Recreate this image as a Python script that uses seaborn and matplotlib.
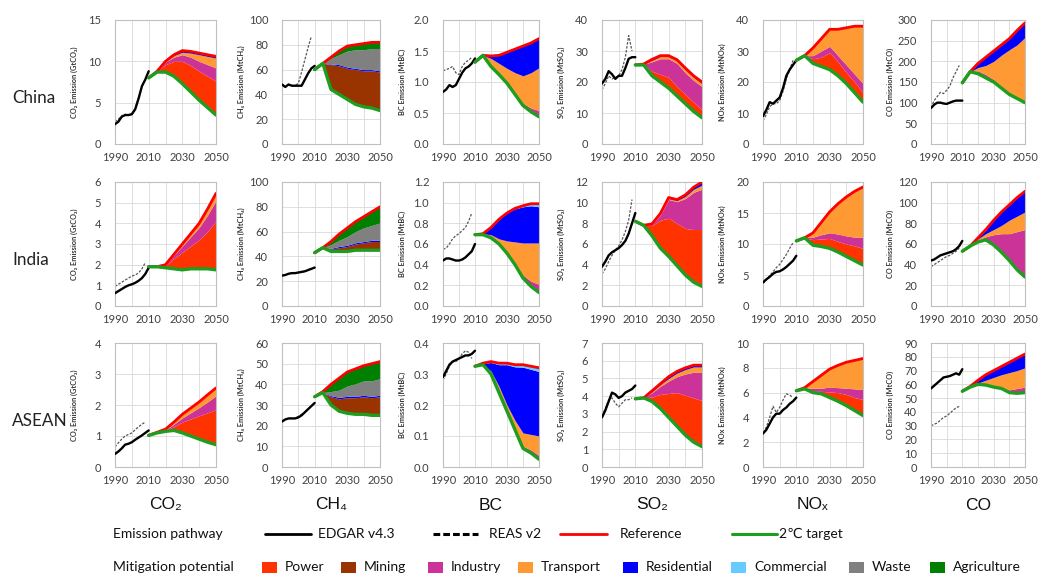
import numpy as np
import matplotlib
matplotlib.use("Agg")
import matplotlib.pyplot as plt
import seaborn as sns
from matplotlib.lines import Line2D
from matplotlib.patches import Rectangle
from matplotlib.ticker import FixedLocator

sns.set_theme(style="white")
plt.rcParams['font.family'] = ['Lato', 'DejaVu Sans']

# ---------------- years ----------------
hist_years = [1990, 1992, 1994, 1996, 1998, 2000, 2002, 2004, 2006, 2008, 2010]
reas_years = [1990, 1992, 1994, 1996, 1998, 2000, 2002, 2004, 2006, 2008]
proj_years = [2010, 2015, 2020, 2025, 2030, 2035, 2040, 2045, 2050]

regions = ["China", "India", "ASEAN"]
species = ["CO2", "CH4", "BC", "SO2", "NOx", "CO"]
species_titles = ["CO\u2082", "CH\u2084", "BC", "SO\u2082", "NO\u2093", "CO"]
ylabels = ["CO\u2082 Emission (GtCO\u2082)", "CH\u2084 Emission (MtCH\u2084)", "BC Emission (MtBC)",
           "SO\u2082 Emission (MtSO\u2082)", "NOx Emission (MtNOx)", "CO Emission (MtCO)"]
sectors = ["Power", "Mining", "Industry", "Transport", "Residential", "Commercial", "Waste", "Agriculture"]
sector_colors = ["#FF3300", "#993300", "#CC3399", "#FF9933", "#0000FF", "#66CCFF", "#808080", "#008000"]

# ---------------- China ----------------
cn_co2_edgar = [2.4, 2.7, 3.3, 3.5, 3.5, 3.6, 4.2, 5.5, 7.0, 7.8, 8.8]
cn_co2_reas = [2.7, 3.0, 3.4, 3.6, 3.5, 3.7, 4.3, 5.6, 7.0, 7.8]
cn_co2_target = [8.0, 8.7, 8.7, 8.2, 7.3, 6.3, 5.3, 4.4, 3.5]
cn_co2_wedges = {"Power": [0, 0.1, 0.9, 1.8, 2.7, 3.2, 3.5, 3.8, 4.1],
                 "Industry": [0, 0, 0.3, 0.5, 0.8, 1.0, 1.2, 1.4, 1.6],
                 "Transport": [0, 0, 0.1, 0.2, 0.3, 0.5, 0.8, 1.0, 1.2],
                 "Residential": [0, 0, 0, 0.1, 0.2, 0.2, 0.2, 0.2, 0.2]}

cn_ch4_edgar = [48, 46, 48, 47, 47, 47, 47, 52, 57, 61, 63]
cn_ch4_reas = [48, 46, 48, 47, 47, 49, 58, 68, 78, 87]
cn_ch4_target = [60, 65, 44, 40, 36, 32, 30, 29, 27]
cn_ch4_wedges = {"Mining": [0, 0, 20, 23, 25, 28, 29, 30, 31],
                 "Residential": [0, 0, 0.5, 1, 1, 1, 1, 1, 1],
                 "Waste": [0, 0, 4.5, 8, 13, 15, 16, 17, 18],
                 "Agriculture": [0, 0, 1, 3, 4, 4, 5, 5, 5]}

cn_bc_edgar = [0.84, 0.88, 0.95, 0.92, 0.95, 1.05, 1.15, 1.22, 1.25, 1.30, 1.38]
cn_bc_reas = [1.18, 1.20, 1.22, 1.25, 1.15, 1.12, 1.25, 1.32, 1.35, 1.40]
cn_bc_target = [1.32, 1.43, 1.25, 1.12, 0.98, 0.80, 0.62, 0.52, 0.44]
cn_bc_wedges = {"Industry": [0, 0, 0.01, 0.02, 0.02, 0.03, 0.04, 0.06, 0.10],
                "Transport": [0, 0, 0.12, 0.16, 0.22, 0.32, 0.44, 0.57, 0.69],
                "Residential": [0, 0, 0.04, 0.13, 0.26, 0.38, 0.48, 0.48, 0.47]}

cn_so2_edgar = [19.5, 21, 23.5, 22.5, 21, 22, 22, 24.5, 27.5, 28, 28]
cn_so2_reas = [17.5, 19.5, 22, 21, 21.5, 22, 24, 28, 35, 30]
cn_so2_target = [25.5, 25.5, 22, 20, 18, 15.5, 13, 10.5, 8.5]
cn_so2_wedges = {"Power": [0, 0, 1.5, 2.5, 3.5, 3, 3, 3, 2.5],
                 "Industry": [0, 0.3, 3, 5, 6, 7.5, 7, 7, 7.5],
                 "Transport": [0, 0, 0.5, 0.7, 0.7, 0.8, 1.0, 1.0, 1.0],
                 "Residential": [0, 0, 0.3, 0.3, 0.3, 0.4, 0.5, 0.5, 0.5]}

cn_nox_edgar = [9, 11, 13.5, 13, 14, 15, 18, 22, 24, 25.5, 27]
cn_nox_reas = [7.5, 9.5, 12, 13, 13, 14, 17, 21, 24, 27]
cn_nox_target = [27, 28.5, 26, 25, 24, 22, 19.5, 16.5, 13.5]
cn_nox_wedges = {"Power": [0, 0, 1.5, 3, 5.5, 4.5, 3.5, 3.5, 3],
                 "Industry": [0, 0, 1, 2, 2, 2, 2.5, 2.5, 3],
                 "Transport": [0, 0, 2.5, 4, 5.5, 8.5, 12, 15.5, 18.5]}

cn_co_edgar = [87, 95, 100, 100, 98, 97, 100, 103, 105, 105, 105]
cn_co_reas = [88, 105, 115, 125, 122, 130, 140, 160, 175, 190]
cn_co_target = [148, 175, 170, 160, 150, 135, 120, 110, 100]
cn_co_wedges = {"Industry": [0, 0, 7, 8, 6, 3, 2, 1, 1],
                "Transport": [0, 0, 8, 22, 44, 77, 106, 129, 157],
                "Residential": [0, 0, 10, 20, 25, 25, 27, 35, 35]}

# ---------------- India ----------------
in_co2_edgar = [0.62, 0.72, 0.82, 0.92, 1.0, 1.05, 1.12, 1.22, 1.35, 1.55, 1.85]
in_co2_reas = [0.95, 1.05, 1.15, 1.25, 1.35, 1.45, 1.5, 1.6, 1.8, 2.1]
in_co2_target = [1.9, 1.9, 1.85, 1.8, 1.75, 1.8, 1.8, 1.8, 1.75]
in_co2_wedges = {"Power": [0, 0, 0.1, 0.5, 0.85, 1.1, 1.4, 1.8, 2.35],
                 "Industry": [0, 0, 0.03, 0.15, 0.3, 0.45, 0.6, 0.8, 1.0],
                 "Transport": [0, 0, 0.02, 0.05, 0.1, 0.15, 0.2, 0.3, 0.35]}

in_ch4_edgar = [24.5, 25, 26, 26.5, 26.5, 27, 27.5, 28, 29, 30, 31]
in_ch4_reas = [24.5, 25, 26, 26.5, 26.5, 27, 27.5, 28, 29, 30]
in_ch4_target = [43, 47, 44, 44, 44, 45, 45, 45, 45]
in_ch4_wedges = {"Mining": [0, 0, 2, 3, 4, 5, 6, 7, 7],
                 "Residential": [0, 0, 0.5, 1, 1, 1, 1, 1, 1],
                 "Waste": [0, 0, 3, 5, 7, 9, 11, 12, 14],
                 "Agriculture": [0, 0, 2.5, 5, 7, 8, 9, 11, 13]}

in_bc_edgar = [0.44, 0.46, 0.46, 0.45, 0.44, 0.44, 0.45, 0.47, 0.50, 0.53, 0.60]
in_bc_reas = [0.55, 0.56, 0.60, 0.65, 0.68, 0.70, 0.73, 0.76, 0.82, 0.90]
in_bc_target = [0.69, 0.69, 0.66, 0.60, 0.51, 0.40, 0.27, 0.19, 0.13]
in_bc_wedges = {"Industry": [0, 0, 0.01, 0.01, 0.02, 0.02, 0.03, 0.05, 0.08],
                "Transport": [0, 0.01, 0.02, 0.04, 0.10, 0.20, 0.31, 0.37, 0.40],
                "Residential": [0, 0, 0.07, 0.19, 0.27, 0.32, 0.35, 0.36, 0.35],
                "Commercial": [0, 0, 0, 0, 0, 0.005, 0.01, 0.02, 0.03]}

in_so2_edgar = [3.8, 4.3, 4.9, 5.2, 5.4, 5.6, 5.9, 6.3, 7.0, 8.0, 9.0]
in_so2_reas = [3.1, 3.6, 4.3, 4.9, 5.4, 5.8, 6.4, 7.2, 8.3, 10.3]
in_so2_target = [8.2, 7.8, 6.8, 5.6, 4.8, 3.9, 3.0, 2.3, 1.9]
in_so2_wedges = {"Power": [0, 0, 1.0, 2.7, 3.7, 4.1, 4.5, 5.1, 5.5],
                 "Industry": [0, 0, 0.1, 0.5, 1.8, 2.1, 2.9, 3.6, 3.9],
                 "Transport": [0, 0, 0.05, 0.1, 0.1, 0.1, 0.2, 0.3, 0.4],
                 "Residential": [0, 0, 0, 0.05, 0.1, 0.1, 0.15, 0.2, 0.3]}

in_nox_edgar = [3.8, 4.3, 4.7, 5.2, 5.5, 5.6, 5.9, 6.3, 6.8, 7.3, 8.1]
in_nox_reas = [3.6, 4.2, 4.9, 5.5, 6.2, 6.7, 7.5, 8.3, 9.3, 10.2]
in_nox_target = [10.5, 11.0, 9.8, 9.6, 9.3, 8.7, 8.0, 7.3, 6.6]
in_nox_wedges = {"Power": [0, 0, 0.9, 1.2, 1.6, 1.7, 2.0, 2.4, 2.7],
                 "Industry": [0, 0, 0.4, 0.7, 0.9, 1.2, 1.3, 1.4, 1.8],
                 "Transport": [0, 0, 0.7, 2.0, 3.4, 4.9, 6.3, 7.4, 8.1]}

in_co_edgar = [44, 45, 47, 49, 50, 51, 52, 53, 55, 58, 63]
in_co_reas = [38, 40, 42, 44, 46, 48, 49, 51, 53, 56]
in_co_target = [53, 58, 62, 64, 59, 52, 44, 35, 28]
in_co_wedges = {"Industry": [0, 0, 2, 3, 10, 18, 26, 37, 46],
                "Transport": [0, 0, 1, 3, 5, 8, 13, 15, 17],
                "Residential": [0, 0, 1, 4, 9, 13, 15, 18, 20]}

# ---------------- ASEAN ----------------
as_co2_edgar = [0.42, 0.5, 0.6, 0.72, 0.75, 0.8, 0.88, 0.95, 1.02, 1.1, 1.18]
as_co2_reas = [0.65, 0.78, 0.9, 1.0, 1.05, 1.1, 1.2, 1.3, 1.38, 1.45]
as_co2_target = [1.02, 1.1, 1.15, 1.18, 1.1, 1.0, 0.9, 0.8, 0.72]
as_co2_wedges = {"Power": [0, 0.02, 0.03, 0.12, 0.35, 0.55, 0.75, 0.95, 1.13],
                 "Industry": [0, 0, 0.01, 0.08, 0.13, 0.2, 0.27, 0.35, 0.45],
                 "Transport": [0, 0, 0.03, 0.07, 0.12, 0.15, 0.18, 0.23, 0.25]}

as_ch4_edgar = [22, 23, 23.5, 23.5, 23.5, 24, 25, 26.5, 28, 29.5, 31]
as_ch4_reas = [22, 23, 23.5, 23.5, 23.5, 24.5, 25.5, 26.5, 28, 29.5]
as_ch4_target = [34, 36, 30, 27, 26, 25.5, 25.5, 25, 25]
as_ch4_wedges = {"Mining": [0, 0, 4, 6, 7.5, 8, 8.5, 8.5, 9],
                 "Residential": [0, 0, 0.5, 0.7, 0.7, 0.7, 0.7, 0.7, 0.7],
                 "Waste": [0, 0, 2, 3.5, 5, 6, 7, 7.5, 8],
                 "Agriculture": [0, 0.5, 3.5, 5.8, 6.8, 7.3, 7.3, 8.3, 8.3]}

as_bc_edgar = [0.29, 0.31, 0.33, 0.34, 0.345, 0.35, 0.355, 0.36, 0.36, 0.365, 0.375]
as_bc_reas = [0.28, 0.30, 0.325, 0.34, 0.34, 0.35, 0.365, 0.375, 0.37, 0.35]
as_bc_target = [0.325, 0.33, 0.30, 0.24, 0.18, 0.12, 0.06, 0.045, 0.025]
as_bc_wedges = {"Industry": [0, 0, 0, 0, 0.003, 0.005, 0.007, 0.01, 0.012],
                "Transport": [0, 0, 0.01, 0.02, 0.017, 0.025, 0.043, 0.05, 0.063],
                "Residential": [0, 0.005, 0.027, 0.07, 0.13, 0.173, 0.212, 0.21, 0.208],
                "Commercial": [0, 0, 0.003, 0.005, 0.005, 0.007, 0.008, 0.01, 0.012]}

as_so2_edgar = [2.8, 3.2, 3.7, 4.2, 4.1, 3.9, 4.0, 4.2, 4.3, 4.4, 4.6]
as_so2_reas = [2.9, 3.3, 3.8, 3.9, 3.6, 3.4, 3.6, 3.8, 3.8, 3.9]
as_so2_target = [3.85, 3.9, 3.7, 3.3, 2.8, 2.3, 1.8, 1.4, 1.15]
as_so2_wedges = {"Power": [0, 0, 0.25, 0.8, 1.35, 1.9, 2.25, 2.5, 2.6],
                 "Industry": [0, 0, 0.25, 0.45, 0.7, 0.9, 1.2, 1.45, 1.6],
                 "Transport": [0, 0, 0.05, 0.1, 0.15, 0.2, 0.25, 0.3, 0.3],
                 "Residential": [0, 0, 0.05, 0.05, 0.1, 0.1, 0.1, 0.1, 0.1]}

as_nox_edgar = [2.7, 3.0, 3.5, 4.0, 4.3, 4.3, 4.6, 4.8, 5.1, 5.3, 5.6]
as_nox_reas = [2.8, 3.2, 4.0, 4.9, 4.4, 4.8, 5.4, 5.9, 5.8, 5.6]
as_nox_target = [6.15, 6.3, 6.0, 5.9, 5.6, 5.3, 4.95, 4.55, 4.15]
as_nox_wedges = {"Power": [0, 0, 0.1, 0.2, 0.45, 0.7, 0.9, 1.05, 1.3],
                 "Industry": [0, 0.05, 0.25, 0.25, 0.4, 0.4, 0.5, 0.7, 0.8],
                 "Transport": [0, 0.05, 0.55, 1.05, 1.45, 1.8, 2.1, 2.3, 2.5]}

as_co_edgar = [57, 59, 61, 63, 65, 65.5, 66, 67, 68, 67, 71]
as_co_reas = [30, 31, 32, 34, 36, 37, 39, 41, 43, 44]
as_co_target = [55, 58, 60, 59.5, 58, 57, 54, 53.5, 54]
as_co_wedges = {"Industry": [0, 0, 0, 0.5, 1, 1, 2, 3.5, 4],
                "Transport": [0, 0.3, 1, 3, 6, 9, 12.5, 13, 14],
                "Residential": [0, 0.2, 2, 4, 5, 6, 7.5, 9, 10]}

# axis ranges (ymax, tick step) per region/species
ylims = {
    "China": [(15, 5), (100, 20), (2.0, 0.5), (40, 10), (40, 10), (300, 50)],
    "India": [(6, 1), (100, 20), (1.2, 0.2), (12, 2), (20, 5), (120, 20)],
    "ASEAN": [(4, 1), (60, 10), (0.4, 0.1), (7, 1), (10, 2), (90, 10)],
}

panels = {
    "China": [(cn_co2_edgar, cn_co2_reas, cn_co2_target, cn_co2_wedges),
              (cn_ch4_edgar, cn_ch4_reas, cn_ch4_target, cn_ch4_wedges),
              (cn_bc_edgar, cn_bc_reas, cn_bc_target, cn_bc_wedges),
              (cn_so2_edgar, cn_so2_reas, cn_so2_target, cn_so2_wedges),
              (cn_nox_edgar, cn_nox_reas, cn_nox_target, cn_nox_wedges),
              (cn_co_edgar, cn_co_reas, cn_co_target, cn_co_wedges)],
    "India": [(in_co2_edgar, in_co2_reas, in_co2_target, in_co2_wedges),
              (in_ch4_edgar, in_ch4_reas, in_ch4_target, in_ch4_wedges),
              (in_bc_edgar, in_bc_reas, in_bc_target, in_bc_wedges),
              (in_so2_edgar, in_so2_reas, in_so2_target, in_so2_wedges),
              (in_nox_edgar, in_nox_reas, in_nox_target, in_nox_wedges),
              (in_co_edgar, in_co_reas, in_co_target, in_co_wedges)],
    "ASEAN": [(as_co2_edgar, as_co2_reas, as_co2_target, as_co2_wedges),
              (as_ch4_edgar, as_ch4_reas, as_ch4_target, as_ch4_wedges),
              (as_bc_edgar, as_bc_reas, as_bc_target, as_bc_wedges),
              (as_so2_edgar, as_so2_reas, as_so2_target, as_so2_wedges),
              (as_nox_edgar, as_nox_reas, as_nox_target, as_nox_wedges),
              (as_co_edgar, as_co_reas, as_co_target, as_co_wedges)],
}

# ---------------- layout (pixels) ----------------
W, H = 1038, 577
fig = plt.figure(figsize=(W / 100, H / 100), dpi=100)
fig.patch.set_facecolor("white")

col_left = [115, 282, 443, 602, 763, 931]
col_width = [101, 98, 96, 100, 100, 94]
row_top = [20, 182, 343]
row_h = 124

TICK_C = "#404040"
GRID_C = "#D9D9D9"
SPINE_C = "#BFBFBF"
RED = "#FF0000"
GREEN = "#1E9E1E"

for r, region in enumerate(regions):
    for c, sp in enumerate(species):
        edgar, reas, target, wedges = panels[region][c]
        l = col_left[c] / W
        b = 1 - (row_top[r] + row_h) / H
        ax = fig.add_axes([l, b, col_width[c] / W, row_h / H])
        ax.set_facecolor("white")

        # stacked mitigation wedges between the 2C target and the reference
        base = np.array(target, dtype=float)
        for s, col in zip(sectors, sector_colors):
            if s in wedges:
                top = base + np.array(wedges[s], dtype=float)
                ax.fill_between(proj_years, base, top, color=col, lw=0, zorder=1)
                base = top
        reference = base

        sns.lineplot(x=reas_years, y=reas, ax=ax, color="#555555", lw=0.9,
                     linestyle=(0, (2.0, 1.2)), legend=False, zorder=2)
        sns.lineplot(x=hist_years, y=edgar, ax=ax, color="black", lw=1.7,
                     legend=False, zorder=3)
        sns.lineplot(x=proj_years, y=list(reference), ax=ax, color=RED, lw=2.0,
                     legend=False, zorder=4)
        sns.lineplot(x=proj_years, y=target, ax=ax, color=GREEN, lw=2.4,
                     legend=False, zorder=5)

        ymax, step = ylims[region][c]
        ax.set_xlim(1990, 2050)
        ax.set_ylim(0, ymax)
        yt = np.round(np.arange(0, ymax + step / 2, step), 3)
        ax.set_yticks(yt)
        if sp == "BC":
            ax.set_yticklabels([f"{v:.1f}" for v in yt])
        else:
            ax.set_yticklabels([f"{v:g}" for v in yt])
        ax.set_xticks([1990, 2010, 2030, 2050])
        ax.set_xticklabels(["1990", "2010", "2030", "2050"])
        ax.xaxis.set_minor_locator(FixedLocator([2000, 2020, 2040]))
        ax.grid(True, which="both", color=GRID_C, lw=0.6, zorder=0)
        ax.set_axisbelow(True)
        ax.tick_params(axis="both", which="both", length=0, labelsize=8,
                       labelcolor=TICK_C)
        ax.tick_params(axis="y", pad=10)
        ax.tick_params(axis="x", pad=6)
        for sp_ in ax.spines.values():
            sp_.set_color(SPINE_C)
            sp_.set_linewidth(0.8)
        ax.set_xlabel("")
        ax.set_ylabel(ylabels[c], fontsize=5.3, fontweight="bold", color="#333333")
        ax.yaxis.set_label_coords(-37 / col_width[c], 0.5)

# row labels
for r, region in enumerate(regions):
    fig.text(12 / W, 1 - (row_top[r] + 78) / H, region, fontsize=12.3,
             color="#222222", va="center", ha="left")

# column titles
for c, t in enumerate(species_titles):
    fig.text((col_left[c] + col_width[c] / 2) / W, 1 - 505 / H, t,
             fontsize=12.5, color="#111111", ha="center", va="center",
             family=["Liberation Sans", "DejaVu Sans"])

# ---------------- legend ----------------
def fx(x):
    return x / W

def fy(y):
    return 1 - y / H

LEG_FS = 10
y1, y2 = 534, 567
fig.text(fx(113), fy(y1), "Emission pathway", fontsize=LEG_FS, va="center", color="#111111")
fig.text(fx(113), fy(y2), "Mitigation potential", fontsize=LEG_FS, va="center", color="#111111")

line_items = [(265, 311, "black", "-", 2.0, 318, "EDGAR v4.3"),
              (433, 478, "black", (0, (2.2, 1.0)), 2.2, 489, "REAS v2"),
              (560, 607, RED, "-", 2.0, 620, "Reference"),
              (732, 777, GREEN, "-", 2.2, 779, "2\u2103 target")]
for x0, x1, col, ls, lw, tx, lab in line_items:
    fig.add_artist(Line2D([fx(x0), fx(x1)], [fy(y1), fy(y1)], color=col, lw=lw,
                          linestyle=ls, transform=fig.transFigure))
    fig.text(fx(tx), fy(y1), lab, fontsize=LEG_FS, va="center", color="#111111")

patch_x = [262, 341, 428, 518, 623, 731, 849, 930]
for px, s, col in zip(patch_x, sectors, sector_colors):
    fig.add_artist(Rectangle((fx(px), fy(y2 + 5.5)), fx(15), 11 / H, color=col,
                             transform=fig.transFigure, lw=0))
    fig.text(fx(px + 23), fy(y2), s, fontsize=LEG_FS, va="center", color="#111111")

fig.savefig("out.png", dpi=100, facecolor="white")
